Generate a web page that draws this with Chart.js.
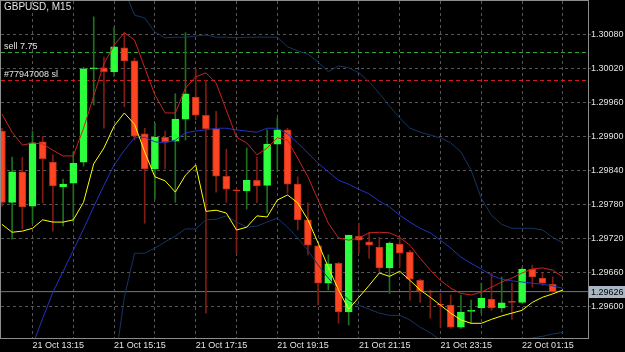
<!DOCTYPE html>
<html>
<head>
<meta charset="utf-8">
<title>GBPUSD, M15</title>
<script src="https://cdn.jsdelivr.net/npm/chart.js@4/dist/chart.umd.min.js"></script>
<style>
  html, body { margin: 0; padding: 0; background: #000; }
  #wrap { width: 625px; height: 352px; }
</style>
</head>
<body>
<div id="wrap"><canvas id="chart"></canvas></div>
<script>
// GBPUSD M15: velas desde 21 Oct 12:30 hasta 22 Oct 02:00 (una cada 15 min)
const opens = [1.29910, 1.29784, 1.29838, 1.29777, 1.29891, 1.29855, 1.29811, 1.29818, 1.29855, 1.30020,
  1.30022, 1.30015, 1.30057, 1.30034, 1.29905, 1.29843, 1.29899, 1.29892, 1.29931, 1.29970,
  1.29938, 1.29914, 1.29830, 1.29806, 1.29804, 1.29823, 1.29814, 1.29887, 1.29912, 1.29816,
  1.29753, 1.29707, 1.29641, 1.29676, 1.29590, 1.29724, 1.29714, 1.29705, 1.29668, 1.29710,
  1.29696, 1.29646, 1.29627, 1.29604, 1.29602, 1.29563, 1.29591, 1.29597, 1.29613, 1.29597,
  1.29609, 1.29607, 1.29666, 1.29650, 1.29639];
const highs = [1.29915, 1.29864, 1.29864, 1.29910, 1.29901, 1.29868, 1.29825, 1.29873, 1.30023, 1.30112,
  1.30041, 1.30094, 1.30084, 1.30039, 1.29915, 1.29924, 1.29910, 1.29976, 1.30084, 1.30020,
  1.30000, 1.29945, 1.29878, 1.29809, 1.29880, 1.29864, 1.29912, 1.29933, 1.29915, 1.29829,
  1.29783, 1.29708, 1.29691, 1.29678, 1.29726, 1.29747, 1.29731, 1.29722, 1.29714, 1.29721,
  1.29699, 1.29648, 1.29629, 1.29623, 1.29620, 1.29620, 1.29611, 1.29641, 1.29659, 1.29652,
  1.29641, 1.29669, 1.29673, 1.29659, 1.29652];
const lows = [1.29777, 1.29719, 1.29737, 1.29747, 1.29783, 1.29733, 1.29742, 1.29749, 1.29848, 1.29956,
  1.29915, 1.30007, 1.29953, 1.29894, 1.29747, 1.29790, 1.29843, 1.29784, 1.29894, 1.29930,
  1.29588, 1.29802, 1.29784, 1.29694, 1.29772, 1.29784, 1.29765, 1.29838, 1.29800, 1.29735,
  1.29691, 1.29602, 1.29629, 1.29570, 1.29567, 1.29694, 1.29685, 1.29661, 1.29623, 1.29669,
  1.29611, 1.29607, 1.29579, 1.29563, 1.29561, 1.29561, 1.29570, 1.29588, 1.29593, 1.29590,
  1.29577, 1.29606, 1.29634, 1.29637, 1.29625];
const closes = [1.29784, 1.29838, 1.29776, 1.29889, 1.29861, 1.29813, 1.29816, 1.29853, 1.30020, 1.30022,
  1.30015, 1.30059, 1.30034, 1.29901, 1.29843, 1.29899, 1.29891, 1.29931, 1.29976, 1.29938,
  1.29914, 1.29830, 1.29807, 1.29804, 1.29823, 1.29813, 1.29887, 1.29912, 1.29816, 1.29753,
  1.29708, 1.29641, 1.29675, 1.29590, 1.29726, 1.29717, 1.29708, 1.29668, 1.29712, 1.29694,
  1.29648, 1.29627, 1.29625, 1.29602, 1.29563, 1.29590, 1.29593, 1.29614, 1.29597, 1.29606,
  1.29607, 1.29666, 1.29652, 1.29641, 1.29626];

// Indicadores (una barra más a la derecha que las velas)
const redLine = [1.29940, 1.29908, 1.29885, 1.29889, 1.29887, 1.29876, 1.29866, 1.29866, 1.29915, 1.29972,
  1.30029, 1.30062, 1.30084, 1.30071, 1.30022, 1.29974, 1.29942, 1.29942, 1.29986, 1.30006,
  1.30013, 1.29995, 1.29947, 1.29899, 1.29889, 1.29868, 1.29880, 1.29898, 1.29894, 1.29862,
  1.29829, 1.29788, 1.29747, 1.29721, 1.29717, 1.29721, 1.29730, 1.29731, 1.29730, 1.29722,
  1.29708, 1.29685, 1.29664, 1.29646, 1.29632, 1.29623, 1.29620, 1.29625, 1.29634, 1.29643,
  1.29650, 1.29659, 1.29666, 1.29668, 1.29664, 1.29652];
const yellowLine = [1.29745, 1.29731, 1.29733, 1.29738, 1.29753, 1.29749, 1.29749, 1.29753, 1.29784, 1.29852,
  1.29880, 1.29919, 1.29942, 1.29922, 1.29873, 1.29829, 1.29822, 1.29802, 1.29832, 1.29850,
  1.29768, 1.29770, 1.29765, 1.29735, 1.29740, 1.29760, 1.29758, 1.29788, 1.29797, 1.29783,
  1.29753, 1.29712, 1.29669, 1.29629, 1.29595, 1.29616, 1.29637, 1.29659, 1.29653, 1.29662,
  1.29646, 1.29629, 1.29616, 1.29602, 1.29588, 1.29576, 1.29570, 1.29570, 1.29577, 1.29583,
  1.29588, 1.29593, 1.29607, 1.29616, 1.29622, 1.29629];
const bandMid = [1.29416, 1.29455, 1.29494, 1.29531, 1.29579, 1.29625, 1.29662, 1.29699, 1.29737, 1.29776,
  1.29814, 1.29850, 1.29876, 1.29898, 1.29899, 1.29891, 1.29889, 1.29894, 1.29907, 1.29910,
  1.29912, 1.29915, 1.29915, 1.29912, 1.29910, 1.29908, 1.29915, 1.29915, 1.29905, 1.29889,
  1.29871, 1.29853, 1.29838, 1.29823, 1.29816, 1.29807, 1.29799, 1.29786, 1.29776, 1.29761,
  1.29749, 1.29738, 1.29730, 1.29717, 1.29703, 1.29687, 1.29676, 1.29666, 1.29655, 1.29648,
  1.29645, 1.29643, 1.29641, 1.29639, 1.29636, 1.29632];
const bandUpper = [null, null, null, null, null, null, null, null, null, null,
  null, 1.30204, 1.30160, 1.30115, 1.30110, 1.30085, 1.30075, 1.30076, 1.30076, 1.30078,
  1.30080, 1.30076, 1.30076, 1.30075, 1.30076, 1.30076, 1.30076, 1.30076, 1.30059, 1.30052,
  1.30046, 1.30032, 1.30015, 1.30025, 1.30022, 1.30013, 1.29997, 1.29977, 1.29954, 1.29933,
  1.29915, 1.29908, 1.29903, 1.29898, 1.29889, 1.29873, 1.29841, 1.29791, 1.29761, 1.29745,
  1.29738, 1.29738, 1.29738, 1.29735, 1.29722, 1.29712];
const bandLower = [null, null, null, null, null, null, null, null, null, null,
  null, 1.29487, 1.29616, 1.29694, 1.29694, 1.29703, 1.29714, 1.29724, 1.29737, 1.29737,
  1.29753, 1.29754, 1.29760, 1.29749, 1.29740, 1.29742, 1.29749, 1.29756, 1.29740, 1.29721,
  1.29699, 1.29673, 1.29650, 1.29629, 1.29611, 1.29602, 1.29595, 1.29588, 1.29584, 1.29584,
  1.29576, 1.29563, 1.29553, 1.29540, 1.29528, 1.29519, 1.29514, 1.29526, 1.29533, 1.29538,
  1.29540, 1.29542, 1.29544, 1.29547, 1.29551, 1.29554];

// Ejes
const xTickLabels = ['21 Oct 13:15', '21 Oct 15:15', '21 Oct 17:15', '21 Oct 19:15', '21 Oct 21:15', '21 Oct 23:15', '22 Oct 01:15'];
const priceTicks = [1.29600, 1.29660, 1.29720, 1.29780, 1.29840, 1.29900, 1.29960, 1.30020, 1.30080];

// Niveles y textos
const sellLevel = 1.30050;
const slLevel = 1.30000;
const bidPrice = 1.29626;
const chartTitle = 'GBPUSD, M15';
const sellText = 'sell 7.75';
const slText = '#77947008 sl';

// Ventana visible
const xMin = -0.09, xMax = 57.46;
const yMin = 1.29544, yMax = 1.30140;
const firstLabelBar = 3;

const fuente = 'Liberation Sans';
const colorTexto = '#e2e2e2';
const colorGrid = '#555555';

Chart.defaults.font.family = fuente;
Chart.defaults.font.size = 9;

const esAlcista = opens.map((o, j) => closes[j] >= o);

function serie(valores) {
  return valores.map((v, j) => ({ x: j, y: v }));
}

const mt4Overlay = {
  id: 'mt4Overlay',
  beforeDraw(chart) {
    const ctx = chart.ctx;
    ctx.save();
    ctx.fillStyle = '#000';
    ctx.fillRect(0, 0, chart.width, chart.height);
    ctx.restore();
  },
  beforeDatasetsDraw(chart) {
    // líneas de la orden abierta: sell (verde) y stop loss (rojo)
    const { ctx, chartArea: a, scales: { y } } = chart;
    ctx.save();
    ctx.lineWidth = 1;
    ctx.setLineDash([4, 3]);
    [[sellLevel, '#2fa62f'], [slLevel, '#d21c1c']].forEach(([v, c]) => {
      const py = Math.round(y.getPixelForValue(v)) + 0.5;
      ctx.strokeStyle = c;
      ctx.beginPath();
      ctx.moveTo(a.left, py);
      ctx.lineTo(a.right, py);
      ctx.stroke();
    });
    ctx.restore();
  },
  afterDraw(chart) {
    const { ctx, chartArea: a, scales: { y } } = chart;
    ctx.save();
    // marco del gráfico
    ctx.strokeStyle = '#8c8c8c';
    ctx.lineWidth = 1;
    ctx.strokeRect(a.left - 0.5, a.top - 0.5, a.right - a.left + 1, a.bottom - a.top + 1);

    ctx.textBaseline = 'middle';
    ctx.fillStyle = colorTexto;
    ctx.font = '10px "' + fuente + '"';
    ctx.fillText(chartTitle, 4, 7.5);
    ctx.font = '9px "' + fuente + '"';
    ctx.fillText(sellText, 4, y.getPixelForValue(sellLevel) - 5.5);
    ctx.fillText(slText, 4, y.getPixelForValue(slLevel) - 5.5);

    // etiqueta del precio actual
    const by = Math.round(y.getPixelForValue(bidPrice));
    ctx.fillStyle = '#a9b6c4';
    ctx.fillRect(a.right + 1, by - 6, chart.width - a.right - 1, 12);
    ctx.fillStyle = '#000';
    ctx.fillText(bidPrice.toFixed(5), a.right + 3, by + 0.5);
    ctx.restore();
  }
};

new Chart(document.getElementById('chart'), {
  type: 'bar',
  data: {
    datasets: [
      {
        type: 'line', data: [{ x: xMin, y: bidPrice }, { x: xMax, y: bidPrice }],
        borderColor: '#6c7a88', borderWidth: 1, pointRadius: 0, order: 10
      },
      {
        // mechas
        data: lows.map((l, j) => ({ x: j, y: [l, highs[j]] })),
        backgroundColor: esAlcista.map(b => b ? '#1d701d' : '#801c12'),
        barThickness: 1, grouped: false, order: 6
      },
      {
        // cuerpos
        data: opens.map((o, j) => ({ x: j, y: [o, closes[j]] })),
        backgroundColor: esAlcista.map(b => b ? '#2cff3c' : '#ff4422'),
        borderColor: esAlcista.map(b => b ? '#2cff3c' : '#b8301a'),
        borderWidth: 1, borderSkipped: false, minBarLength: 1,
        barThickness: 7, grouped: false, order: 5
      },
      {
        type: 'line', data: serie(bandUpper), borderColor: '#153563', borderWidth: 1,
        pointRadius: 0, tension: 0, order: 3
      },
      {
        type: 'line', data: serie(bandLower), borderColor: '#153563', borderWidth: 1,
        pointRadius: 0, tension: 0, order: 3
      },
      {
        type: 'line', data: serie(bandMid), borderColor: '#2233c0', borderWidth: 1,
        pointRadius: 0, tension: 0, order: 2
      },
      {
        type: 'line', data: serie(redLine), borderColor: '#cc2222', borderWidth: 1,
        pointRadius: 0, tension: 0, order: 1
      },
      {
        type: 'line', data: serie(yellowLine), borderColor: '#ffff00', borderWidth: 1,
        pointRadius: 0, tension: 0, order: 1
      }
    ]
  },
  options: {
    responsive: true,
    maintainAspectRatio: false,
    animation: false,
    events: [],
    layout: { padding: { left: 1, top: 1, right: 0, bottom: 0 } },
    plugins: { legend: { display: false }, tooltip: { enabled: false } },
    scales: {
      x: {
        type: 'linear', min: xMin, max: xMax, offset: false,
        afterBuildTicks: axis => {
          const ticks = [];
          for (let j = firstLabelBar; j <= xMax; j += 4) ticks.push({ value: j });
          axis.ticks = ticks;
        },
        afterFit: axis => { axis.height = 14; },
        ticks: {
          autoSkip: false, maxRotation: 0, align: 'start', color: colorTexto, padding: 2,
          callback: v => (v - firstLabelBar) % 8 === 0 ? xTickLabels[(v - firstLabelBar) / 8] : ''
        },
        grid: { color: colorGrid, offset: false, drawTicks: false },
        border: { display: false, dash: [3, 3] }
      },
      y: {
        position: 'right', min: yMin, max: yMax,
        afterBuildTicks: axis => { axis.ticks = priceTicks.map(v => ({ value: v })); },
        afterFit: axis => {
          axis.width = 37;
          // la primera etiqueta queda lejos del borde: sin margen extra arriba/abajo
          axis.paddingTop = 0;
          axis.paddingBottom = 0;
        },
        ticks: { autoSkip: false, color: colorTexto, padding: 0, callback: v => v.toFixed(5) },
        grid: { color: colorGrid, tickLength: 3, tickColor: colorGrid },
        border: { display: false, dash: [3, 3] }
      }
    }
  },
  plugins: [mt4Overlay]
});
</script>
</body>
</html>
